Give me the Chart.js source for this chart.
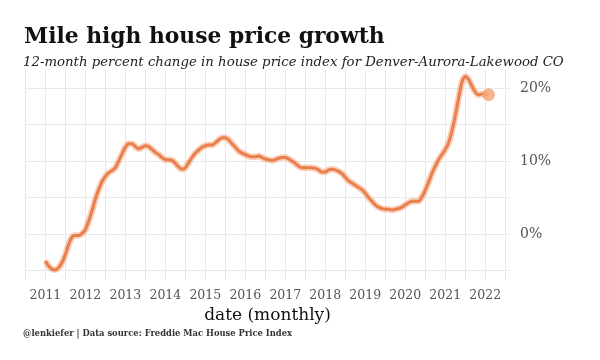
<!DOCTYPE html>
<html>
<head>
<meta charset="utf-8">
<script src="https://cdn.jsdelivr.net/npm/chart.js@4"></script>
<style>
html,body{margin:0;padding:0;background:#fff;}
canvas{display:block;}
</style>
</head>
<body>
<canvas id="c" width="600" height="360"></canvas>
<script>
// ---- data ----
const months = [
 '2011-01','2011-02','2011-03','2011-04','2011-05','2011-06','2011-07','2011-08','2011-09','2011-10','2011-11','2011-12',
 '2012-01','2012-02','2012-03','2012-04','2012-05','2012-06','2012-07','2012-08','2012-09','2012-10','2012-11','2012-12',
 '2013-01','2013-02','2013-03','2013-04','2013-05','2013-06','2013-07','2013-08','2013-09','2013-10','2013-11','2013-12',
 '2014-01','2014-02','2014-03','2014-04','2014-05','2014-06','2014-07','2014-08','2014-09','2014-10','2014-11','2014-12',
 '2015-01','2015-02','2015-03','2015-04','2015-05','2015-06','2015-07','2015-08','2015-09','2015-10','2015-11','2015-12',
 '2016-01','2016-02','2016-03','2016-04','2016-05','2016-06','2016-07','2016-08','2016-09','2016-10','2016-11','2016-12',
 '2017-01','2017-02','2017-03','2017-04','2017-05','2017-06','2017-07','2017-08','2017-09','2017-10','2017-11','2017-12',
 '2018-01','2018-02','2018-03','2018-04','2018-05','2018-06','2018-07','2018-08','2018-09','2018-10','2018-11','2018-12',
 '2019-01','2019-02','2019-03','2019-04','2019-05','2019-06','2019-07','2019-08','2019-09','2019-10','2019-11','2019-12',
 '2020-01','2020-02','2020-03','2020-04','2020-05','2020-06','2020-07','2020-08','2020-09','2020-10','2020-11','2020-12',
 '2021-01','2021-02','2021-03','2021-04','2021-05','2021-06','2021-07','2021-08','2021-09','2021-10','2021-11','2021-12',
 '2022-01','2022-02'
];
const hpiGrowth = [
 -3.7,-4.4,-4.8,-4.9,-4.6,-3.9,-2.8,-1.4,-0.4,-0.2,-0.2,0.1,
 0.6,1.8,3.2,4.8,6.1,7.2,7.9,8.4,8.7,9.1,10.0,11.0,
 11.9,12.4,12.4,12.0,11.7,11.9,12.1,12.0,11.6,11.2,10.9,10.5,
 10.2,10.2,10.1,9.7,9.2,8.9,9.1,9.8,10.5,11.1,11.5,11.9,
 12.1,12.2,12.2,12.5,12.9,13.2,13.2,12.9,12.4,11.9,11.4,11.1,
 10.9,10.7,10.6,10.6,10.7,10.5,10.3,10.2,10.1,10.2,10.4,10.5,
 10.5,10.3,10.0,9.7,9.3,9.1,9.1,9.1,9.1,9.0,8.8,8.5,
 8.5,8.8,8.9,8.8,8.6,8.3,7.8,7.3,7.0,6.7,6.4,6.1,
 5.6,5.0,4.5,4.0,3.7,3.5,3.4,3.4,3.3,3.4,3.5,3.7,
 4.0,4.3,4.5,4.5,4.5,5.1,6.0,7.1,8.3,9.3,10.2,10.9,
 11.6,12.5,14.1,16.2,18.6,20.8,21.6,21.2,20.3,19.5,19.1,19.2,
 19.2,19.1
];
const xTickValues = [2010.5,2011,2011.5,2012,2012.5,2013,2013.5,2014,2014.5,2015,2015.5,2016,2016.5,2017,2017.5,2018,2018.5,2019,2019.5,2020,2020.5,2021,2021.5,2022,2022.5];
const yTickValues = [-5,0,5,10,15,20];
const yTickLabels = {0:'0%',10:'10%',20:'20%'};
const titleText = 'Mile high house price growth';
const subtitleText = '12-month percent change in house price index for Denver-Aurora-Lakewood CO';
const xAxisTitle = 'date (monthly)';
const footerText = '@lenkiefer | Data source: Freddie Mac House Price Index';

// ---- build points ----
const pts = months.map((m, i) => {
  const [y, mo] = m.split('-').map(Number);
  return {x: y + (mo - 1) / 12, y: hpiGrowth[i]};
});
const lastIdx = pts.length - 1;

const textPlugin = {
  id: 'texts',
  afterDraw(chart) {
    const ctx = chart.ctx;
    ctx.save();
    ctx.fillStyle = '#111';
    ctx.textBaseline = 'alphabetic';
    ctx.textAlign = 'left';
    ctx.font = 'bold 21.8px "DejaVu Serif"';
    ctx.fillText(titleText, 24, 43);
    ctx.font = 'italic 13.3px "DejaVu Serif"';
    ctx.fillStyle = '#222';
    ctx.fillText(subtitleText, 23, 66);
    ctx.font = 'bold 8.4px "DejaVu Serif"';
    ctx.fillStyle = '#333';
    ctx.fillText(footerText, 23, 336);
    ctx.restore();
  }
};

new Chart(document.getElementById('c'), {
  type: 'line',
  data: {
    datasets: [
      {
        data: pts,
        borderColor: 'rgba(245,160,115,0.5)',
        borderWidth: 6.5,
        pointRadius: 0,
        tension: 0.35,
        cubicInterpolationMode: 'monotone'
      },
      {
        data: pts,
        borderColor: '#dc5f24',
        borderWidth: 3,
        pointRadius: c => c.dataIndex === lastIdx ? 6 : 0,
        pointBackgroundColor: 'rgba(246,170,130,0.85)',
        pointBorderColor: 'rgba(240,150,110,0.6)',
        pointBorderWidth: 1,
        tension: 0.35,
        cubicInterpolationMode: 'monotone'
      }
    ]
  },
  options: {
    responsive: false,
    animation: false,
    layout: {padding: {left: 25, top: 70, right: 0, bottom: 0}},
    plugins: {legend: {display: false}, tooltip: {enabled: false}, title: {display: false}},
    scales: {
      x: {
        type: 'linear',
        min: 2010.49,
        max: 2022.62,
        afterBuildTicks: s => { s.ticks = xTickValues.map(v => ({value: v})); },
        afterFit: s => { s.height = 80; },
        border: {display: false},
        grid: {color: '#e9e9e9', lineWidth: 1, drawTicks: false},
        ticks: {
          autoSkip: false,
          maxRotation: 0,
          padding: 8,
          color: '#555',
          font: {family: '"DejaVu Serif"', size: 12.5},
          callback: v => Number.isInteger(v) ? String(v) : ''
        },
        title: {
          display: true,
          text: xAxisTitle,
          color: '#111',
          font: {family: '"DejaVu Serif"', size: 17},
          padding: {top: 0, bottom: 34}
        }
      },
      y: {
        position: 'right',
        min: -6.3,
        max: 22.5,
        afterBuildTicks: s => { s.ticks = yTickValues.map(v => ({value: v})); },
        afterFit: s => { s.width = 90; },
        border: {display: false},
        grid: {color: '#e9e9e9', lineWidth: 1, drawTicks: false},
        ticks: {
          padding: 10,
          color: '#555',
          font: {family: '"DejaVu Serif"', size: 14},
          callback: v => yTickLabels[v] || ''
        }
      }
    }
  },
  plugins: [textPlugin]
});
</script>
</body>
</html>
